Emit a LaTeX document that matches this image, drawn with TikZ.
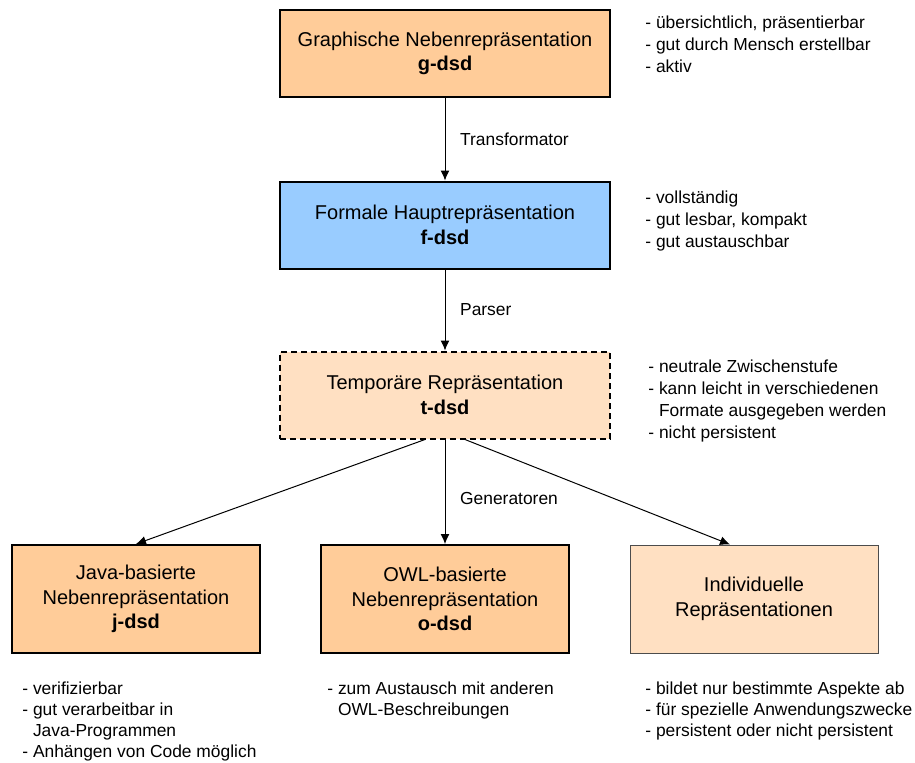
\documentclass[tikz,border=0pt]{standalone}
\usepackage{fontspec}
\setmainfont{Liberation Sans}
\usetikzlibrary{arrows.meta}
\definecolor{dsdorange}{HTML}{FFCC99}
\definecolor{dsdblue}{HTML}{99CCFF}
\definecolor{dsdlight}{HTML}{FFE0C2}
\tikzset{
  dsd/.style={draw, line width=1pt, minimum width=165pt, minimum height=43.5pt, align=center, font=\fontsize{10}{12.2}\selectfont},
  leaf/.style={dsd, minimum width=124pt, minimum height=54pt},
  notes/.style={anchor=north west, inner sep=0pt, align=left, font=\fontsize{8.7}{11}\selectfont},
  lownotes/.style={notes, font=\fontsize{8.7}{10.5}\selectfont},
  conv/.style={-{Latex[length=5pt,width=4.5pt]}, line width=0.5pt},
  convlabel/.style={midway, right=4pt, font=\fontsize{8.7}{11}\selectfont}
}
\newcommand{\cont}{\hphantom{- }}
\begin{document}
\begin{tikzpicture}[x=0.5pt, y=-0.5pt]
    \useasboundingbox (0,0) rectangle (915,762);
    % representations
    \node [dsd, fill=dsdorange] (g) at (445,53.5) {Graphische Nebenrepräsentation\\\textbf{g-dsd}};
    \node [dsd, fill=dsdblue] (f) at (445,225) {Formale Hauptrepräsentation\\\textbf{f-dsd}};
    \node [dsd, fill=dsdlight, dash pattern=on 3pt off 2pt] (t) at (445,395) {Temporäre Repräsentation\\\textbf{t-dsd}};
    \node [leaf, fill=dsdorange] (j) at (136,599) {Java-basierte\\Nebenrepräsentation\\\textbf{j-dsd}};
    \node [leaf, fill=dsdorange] (o) at (445,599) {OWL-basierte\\Nebenrepräsentation\\\textbf{o-dsd}};
    \node [leaf, fill=dsdlight, draw=black!70, line width=0.5pt] (i) at (754,599) {Individuelle\\Repräsentationen};
    % properties
    \node [notes] (gnotes) at (645,15.5) {- übersichtlich, präsentierbar\\- gut durch Mensch erstellbar\\- aktiv};
    \node [notes] (fnotes) at (645,190.5) {- vollständig\\- gut lesbar, kompakt\\- gut austauschbar};
    \node [notes] (tnotes) at (648,359.5) {- neutrale Zwischenstufe\\- kann leicht in verschiedenen\\\cont Formate ausgegeben werden\\- nicht persistent};
    \node [lownotes] (jnotes) at (22,681) {- verifizierbar\\- gut verarbeitbar in\\\cont Java-Programmen\\- Anhängen von Code möglich};
    \node [lownotes] (onotes) at (327,681) {- zum Austausch mit anderen\\\cont OWL-Beschreibungen};
    \node [lownotes] (inotes) at (645,681) {- bildet nur bestimmte Aspekte ab\\- für spezielle Anwendungszwecke\\- persistent oder nicht persistent};
    % transformations
    \path [conv] (g) edge node [convlabel] {Transformator} (f);
    \path [conv] (f) edge node [convlabel] {Parser} (t);
    \path [conv] (t) edge node [convlabel, pos=0.56] {Generatoren} (o);
    \path [conv] ([xshift=-10pt]t.south) edge (j.north);
    \path [conv] ([xshift=10pt]t.south) edge ([xshift=-12pt]i.north);
\end{tikzpicture}
\end{document}
